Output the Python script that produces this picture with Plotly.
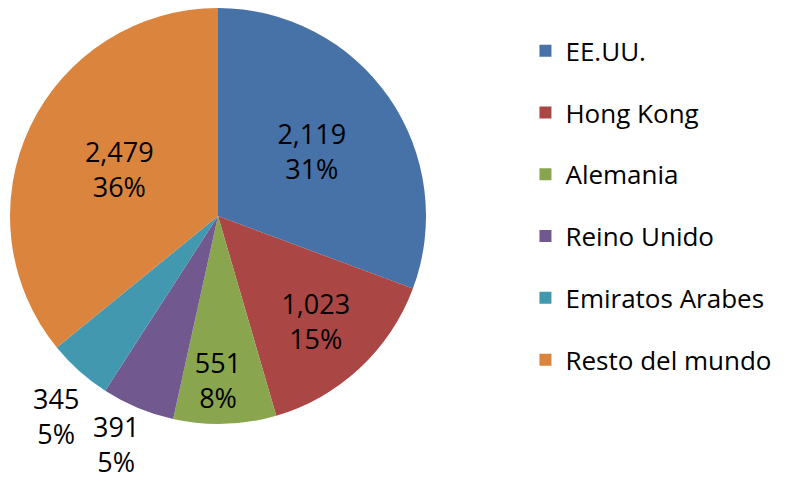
import plotly.graph_objects as go

# Export data
countries = ['EE.UU.', 'Hong Kong', 'Alemania', 'Reino Unido', 'Emiratos Arabes', 'Resto del mundo']
values = [2119, 1023, 551, 391, 345, 2479]
pct_labels = ['31%', '15%', '8%', '5%', '5%', '36%']
colors = ['#4672A8', '#AA4643', '#89A54E', '#71588F', '#4198AF', '#DB843D']
text_pos = ['inside', 'inside', 'inside', 'none', 'none', 'inside']

font_name = 'Open Sans'

fig = go.Figure()

fig.add_trace(go.Pie(
    labels=countries,
    values=values,
    text=pct_labels,
    texttemplate='%{value:,}<br>%{text}',
    textposition=text_pos,
    insidetextorientation='horizontal',
    textfont=dict(family=font_name, size=27, color='black'),
    marker=dict(colors=colors, line=dict(width=0)),
    sort=False,
    direction='clockwise',
    rotation=0,
    showlegend=False,
    hoverinfo='label+value',
    domain=dict(x=[2 / 790, 418 / 790], y=[65 / 481, 1.0]),
))

# the two thin slices get their labels outside, below-left of the pie
small_label_xy = {'Reino Unido': (108, 436), 'Emiratos Arabes': (48, 408)}
for name, val, pct in zip(countries, values, pct_labels):
    if name in small_label_xy:
        px, py = small_label_xy[name]
        fig.add_annotation(
            x=px / 790, y=1 - py / 481, xref='paper', yref='paper',
            text=f'{val:,}<br>{pct}', showarrow=False,
            font=dict(family=font_name, size=27, color='black'),
            xanchor='center', yanchor='middle', borderpad=0,
        )

# legend built from dummy traces so the entry spacing can be set
for name, col in zip(countries, colors):
    fig.add_trace(go.Scatter(
        x=[None], y=[None], mode='markers', name=name,
        legendgroup=name,
        marker=dict(symbol='square', size=18, color=col),
    ))

fig.update_layout(
    width=790, height=481,
    margin=dict(l=0, r=0, t=0, b=0),
    paper_bgcolor='white', plot_bgcolor='white',
    font=dict(family=font_name, size=26, color='black'),
    xaxis=dict(visible=False), yaxis=dict(visible=False),
    legend=dict(x=0.655, y=0.96, xanchor='left', yanchor='top',
                tracegroupgap=25, itemsizing='constant',
                font=dict(family=font_name, size=26)),
)

fig.write_html("out.html")
